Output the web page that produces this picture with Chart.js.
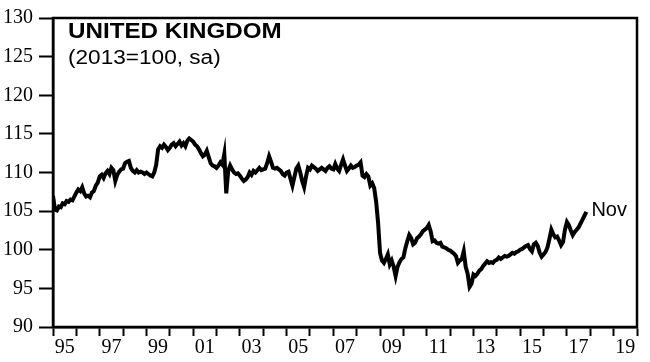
<!DOCTYPE html>
<html>
<head>
<meta charset="utf-8">
<script src="https://cdn.jsdelivr.net/npm/chart.js@4.4.1/dist/chart.umd.min.js"></script>
<style>
  html, body { margin: 0; padding: 0; background: #fff; }
  canvas { display: block; }
</style>
</head>
<body>
<canvas id="ukChart" width="650" height="362"></canvas>
<script>
// monthly index (2013=100, sa), Jan 1995 .. Nov 2017
const firstYear = 1995;
const ukIndex = [
  107.0, 105.2, 105.1, 105.6, 105.5, 106.0, 105.9, 106.3, 106.2, 106.5, 106.4, 106.9, // 1995
  107.4, 107.8, 107.6, 108.1, 107.3, 106.9, 107.0, 106.8, 107.4, 107.6, 108.3, 108.7, // 1996
  109.5, 109.7, 109.3, 109.9, 110.2, 109.8, 110.6, 110.3, 108.9, 109.7, 110.1, 110.4, // 1997
  110.5, 111.2, 111.4, 111.5, 110.6, 110.2, 110.0, 110.3, 110.0, 110.1, 110.0, 109.8, // 1998
  110.0, 109.8, 109.6, 109.5, 110.0, 111.0, 113.0, 113.4, 113.2, 113.6, 113.3, 112.9, // 1999
  113.2, 113.6, 113.8, 113.4, 113.7, 114.0, 113.5, 113.8, 113.4, 114.1, 114.4, 114.2, // 2000
  114.0, 113.6, 113.4, 113.0, 112.5, 112.1, 112.3, 112.8, 112.0, 111.2, 110.9, 110.8, // 2001
  110.6, 110.9, 111.3, 111.0, 112.4, 107.3, 110.2, 110.9, 110.4, 110.0, 109.8, 109.9, // 2002
  109.6, 109.2, 108.9, 109.1, 109.4, 110.0, 109.7, 110.2, 110.0, 110.3, 110.6, 110.3, // 2003
  110.4, 110.5, 111.2, 112.1, 111.4, 110.6, 110.5, 110.6, 110.4, 110.2, 109.8, 109.6, // 2004
  110.0, 110.1, 109.2, 108.3, 109.4, 110.5, 110.9, 110.0, 108.9, 108.1, 109.5, 110.6, // 2005
  110.4, 110.9, 110.7, 110.5, 110.2, 110.4, 110.6, 110.4, 110.2, 110.6, 110.8, 110.5, // 2006
  110.4, 111.1, 110.5, 110.2, 111.0, 111.7, 110.9, 110.2, 110.5, 110.9, 110.6, 110.7, // 2007
  110.9, 111.0, 111.3, 109.6, 109.4, 109.8, 109.5, 108.3, 108.6, 108.0, 106.2, 103.5, // 2008
  99.6, 98.6, 98.3, 98.8, 99.4, 98.1, 98.6, 97.8, 96.6, 97.8, 98.4, 98.8,             // 2009
  99.0, 100.2, 101.1, 101.9, 101.5, 100.7, 100.9, 101.5, 101.7, 102.0, 102.4, 102.6,  // 2010
  102.8, 103.2, 102.4, 101.1, 101.2, 100.9, 100.8, 100.9, 100.4, 100.3, 100.2, 100.0, // 2011
  99.9, 99.7, 99.5, 99.2, 98.3, 98.6, 98.8, 99.8, 97.8, 96.9, 95.2, 95.6,             // 2012
  96.8, 96.6, 96.9, 97.3, 97.5, 97.9, 98.2, 98.5, 98.3, 98.4, 98.3, 98.6,             // 2013
  98.7, 99.0, 98.8, 99.0, 99.2, 99.1, 99.2, 99.4, 99.6, 99.5, 99.7, 99.8,             // 2014
  100.0, 100.1, 100.3, 100.5, 100.6, 100.1, 99.8, 100.7, 100.9, 100.5, 99.6, 99.1,    // 2015
  99.4, 99.7, 100.3, 101.4, 102.6, 102.0, 101.6, 101.7, 101.2, 100.6, 101.0, 102.6,   // 2016
  103.6, 103.2, 102.5, 101.9, 102.3, 102.6, 102.9, 103.4, 103.9, 104.4, 104.9         // 2017
];
const lastLabel = 'Nov';

const xMin = 1995;
const xMax = 2020;
const xLabelYears = [1995, 1997, 1999, 2001, 2003, 2005, 2007, 2009, 2011, 2013, 2015, 2017, 2019];
const yTicks = [90, 95, 100, 105, 110, 115, 120, 125, 130];

const titleText = 'UNITED KINGDOM';
const subtitleText = '(2013=100, sa)';

const points = ukIndex.map((v, i) => ({ x: firstYear + i / 12, y: v }));

// year ticks on every integer, labels sit mid-year on odd years
const xTickValues = [];
for (let y = xMin; y <= xMax; y++) {
  xTickValues.push(y);
  if (y < xMax) xTickValues.push(y + 0.5);
}

// text drawn a little wider than the stock font, like the original artwork
function wideText(c, txt, x, y, sx) {
  c.save();
  c.translate(x, y);
  c.scale(sx, 1);
  c.fillText(txt, 0, 0);
  c.restore();
}

const framePlugin = {
  id: 'frame',
  beforeDatasetsDraw(chart) {
    const a = chart.chartArea;
    const c = chart.ctx;
    c.save();
    c.strokeStyle = '#000';
    c.lineWidth = 2.5;
    c.strokeRect(a.left, a.top, a.right - a.left, a.bottom - a.top);
    c.restore();
  },
  afterDraw(chart) {
    const a = chart.chartArea;
    const c = chart.ctx;
    c.save();
    c.fillStyle = '#000';
    c.textAlign = 'left';
    c.textBaseline = 'alphabetic';
    c.font = 'bold 22px "Liberation Sans", Arial, sans-serif';
    wideText(c, titleText, a.left + 15, 38, 1.1);
    c.font = '20px "Liberation Sans", Arial, sans-serif';
    wideText(c, subtitleText, a.left + 15, 64, 1.13);
    // label at the end of the line
    const last = points[points.length - 1];
    const px = chart.scales.x.getPixelForValue(last.x);
    const py = chart.scales.y.getPixelForValue(last.y);
    c.textBaseline = 'middle';
    c.fillText(lastLabel, px + 5, py - 1);
    c.restore();
  }
};

const ctx = document.getElementById('ukChart').getContext('2d');
new Chart(ctx, {
  type: 'line',
  data: {
    datasets: [{
      data: points,
      borderColor: '#000',
      borderWidth: 4,
      pointRadius: 0,
      tension: 0,
      fill: false
    }]
  },
  options: {
    responsive: false,
    animation: false,
    layout: { padding: { top: 13, right: 13, left: 0, bottom: 0 } },
    plugins: {
      legend: { display: false },
      tooltip: { enabled: false }
    },
    scales: {
      x: {
        type: 'linear',
        min: xMin,
        max: xMax,
        afterBuildTicks: scale => { scale.ticks = xTickValues.map(v => ({ value: v })); },
        afterFit: scale => { scale.height = 35; },
        border: { color: '#000', width: 2.5 },
        grid: {
          drawOnChartArea: false,
          tickLength: 9,
          tickWidth: 2,
          tickColor: c => Number.isInteger(c.tick.value) ? '#000' : 'rgba(0,0,0,0)'
        },
        ticks: {
          autoSkip: false,
          maxRotation: 0,
          padding: 0,
          color: '#000',
          font: { family: '"Liberation Serif", "Times New Roman", serif', size: 20 },
          callback: v => {
            const yr = Math.floor(v);
            return (v !== yr && xLabelYears.includes(yr)) ? String(yr).slice(-2) : '';
          }
        }
      },
      y: {
        min: 90,
        max: 130,
        afterBuildTicks: scale => { scale.ticks = yTicks.map(v => ({ value: v })); },
        afterFit: scale => { scale.width = 53; },
        border: { color: '#000', width: 2.5 },
        grid: {
          drawOnChartArea: false,
          tickLength: 14,
          tickWidth: 2,
          tickColor: '#000'
        },
        ticks: {
          padding: 6,
          color: '#000',
          font: { family: '"Liberation Serif", "Times New Roman", serif', size: 20 }
        }
      }
    }
  },
  plugins: [framePlugin]
});
</script>
</body>
</html>
